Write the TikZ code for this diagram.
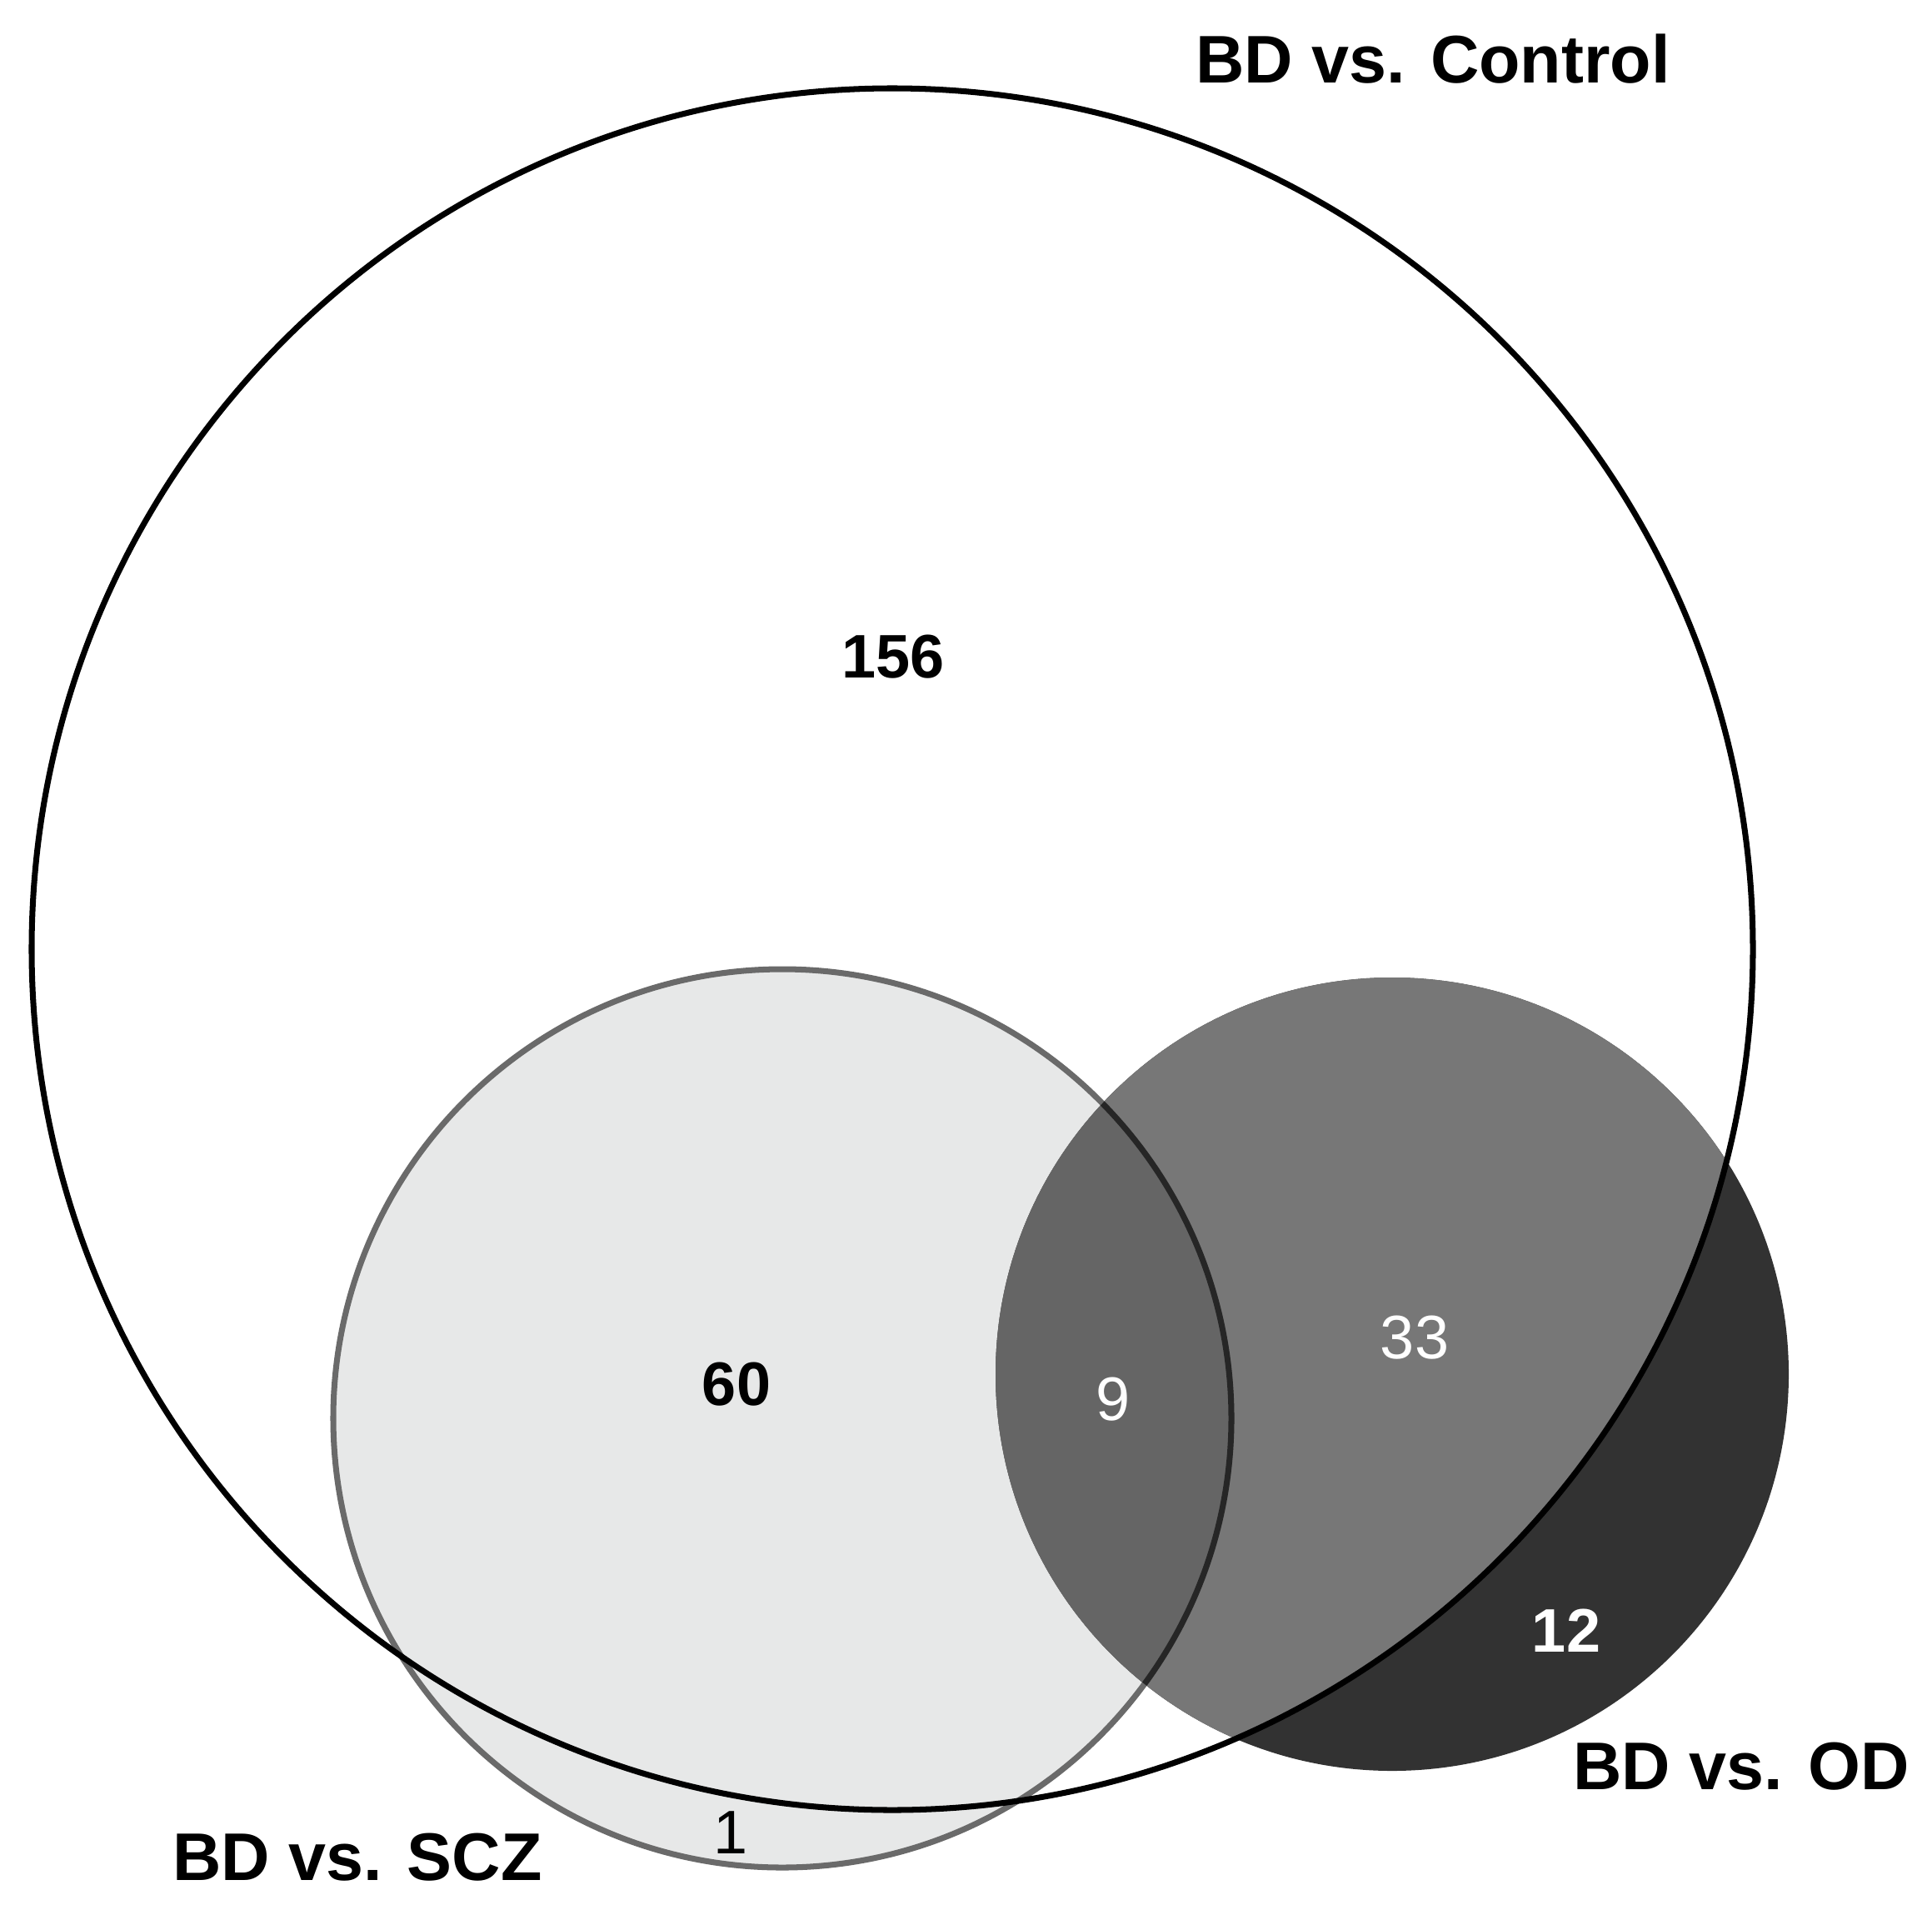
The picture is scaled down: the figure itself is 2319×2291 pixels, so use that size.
\documentclass[tikz,border=0pt]{standalone}
\usepackage{fontspec}
\setmainfont{Liberation Sans}
\definecolor{sczfillc}{HTML}{E7E8E8}
\definecolor{sczlinec}{HTML}{6A6A6A}
\definecolor{oddarkc}{HTML}{323232}
\definecolor{odmidc}{HTML}{777777}
\definecolor{lensc}{HTML}{656565}
\begin{document}
\begin{tikzpicture}[x=0.01cm,y=-0.01cm,
  lbl/.style={font=\fontsize{23}{26}\selectfont\bfseries, inner sep=0, anchor=center},
  numb/.style={font=\fontsize{21}{24}\selectfont\bfseries, inner sep=0},
  numr/.style={font=\fontsize{21}{24}\selectfont, inner sep=0},
  bigborder/.style={line width=2pt, draw=black},
  sczborder/.style={line width=2pt, draw=sczlinec}]
\useasboundingbox (0,0) rectangle (2319,2291);
\def\bigc{(1071,1139) circle [radius=1033]}
\def\sczc{(939,1702) circle [radius=539]}
\def\odc{(1671,1649) circle [radius=476]}
% SCZ set
\fill[sczfillc] \sczc;
% OD set
\fill[oddarkc] \odc;
\begin{scope}
  \clip \odc;
  \fill[odmidc] \bigc;
  \fill[lensc] \sczc;
\end{scope}
% SCZ border
\draw[sczborder] \sczc;
\begin{scope}
  \clip \odc;
  \draw[line width=2pt, draw=black!85] \sczc;
\end{scope}
% Control set border
\draw[bigborder] \bigc;
% labels
\node[lbl] (lctrl) at (1720,71) {BD vs. Control};
\node[lbl] (lscz) at (429,2229) {BD vs. SCZ};
\node[lbl] (lod) at (2090,2120) {BD vs. OD};
% counts
\node[numb] (n156) at (1072,788) {156};
\node[numb] (n60) at (884,1661) {60};
\node[numr, text=white] (n9) at (1336,1679) {9};
\node[numr, text=white] (n33) at (1698,1605) {33};
\node[numb, text=white] (n12) at (1880,1957) {12};
\node[numr] (n1) at (877,2199) {1};
\end{tikzpicture}
\end{document}
